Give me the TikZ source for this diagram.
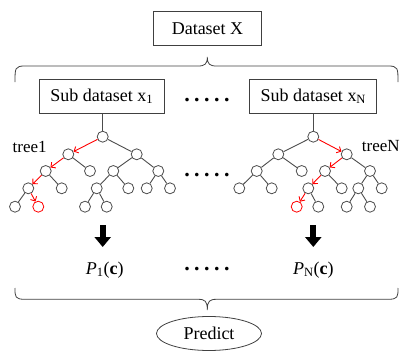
\documentclass[tikz,border=0pt]{standalone}
\usepackage{fontspec}
\setmainfont{Liberation Serif}
\usetikzlibrary{arrows.meta,shapes.geometric}
\newcommand{\dotrow}{.\hspace{4.5pt}.\hspace{4.5pt}.\hspace{4.5pt}.\hspace{4.5pt}.}
\tikzset{
  box/.style={draw=black!75, line width=0.8pt, minimum height=34pt, inner sep=0pt},
  tnode/.style={circle, draw=black!70, fill=white, line width=0.8pt, minimum size=11pt, inner sep=0pt},
  tred/.style={tnode, draw=red},
  tedge/.style={draw=black!70, line width=0.9pt},
  redarrow/.style={draw=red, line width=0.9pt, -{Straight Barb[length=3.5pt,width=7pt]}},
  bigarrow/.style={line width=6pt, -{Triangle[width=16pt,length=10pt]}},
  dots/.style={font=\fontsize{22}{24}\selectfont\bfseries, anchor=base},
}
\begin{document}
\begin{tikzpicture}[x=1pt, y=-1pt, every node/.style={font=\fontsize{18}{21}\selectfont}]
\useasboundingbox (0,0) rectangle (400,351);
% Whole dataset and the split into sub datasets
\node[box, minimum width=108pt] (data) at (207.5,28.3) {Dataset X};
\draw[black!75, line width=0.8pt] (15,82) .. controls (15,68) and (15,66) .. (25,66) -- (198,66)
  .. controls (205,66) and (207.3,64) .. (207.3,57) .. controls (207.3,64) and (209.6,66) .. (216.6,66)
  -- (388,66) .. controls (398,66) and (398,68) .. (398,82);
\node[box, minimum width=125pt] (s1) at (101.7,96.3) {Sub dataset x\textsubscript{1}};
\node[box, minimum width=127pt] (sN) at (313.3,96.3) {Sub dataset x\textsubscript{N}};
\node[dots] (d1) at (207,101.5) {\dotrow};
% Tree 1
\foreach \n/\x/\y in {a0/102.7/136.7, a1/68.3/154.3, a2/136.7/154.3, a3/45.7/171, a4/90/171,
  a5/113.3/171, a6/158.3/171, a7/28.3/188.3, a8/61.7/188.3, a9/96.7/188.3, a10/128.3/188.3,
  a11/146.7/188.3, a12/170/188.3, a13/15/206.7, a15/85/206.7, a16/106.7/206.7}
  \node[tnode] (\n) at (\x,\y) {};
\node[tred] (a14) at (38.3,206.7) {};
\foreach \u/\v in {a0/a2, a1/a4, a2/a5, a2/a6, a3/a8, a5/a9, a5/a10, a6/a11, a6/a12,
  a7/a13, a9/a15, a9/a16}
  \draw[tedge] (\u) -- (\v);
\foreach \u/\v in {a0/a1, a1/a3, a3/a7, a7/a14}
  \draw[redarrow] (\u) -- (\v);
\draw[tedge] (s1.south -| a0) -- (a0);
\node[font=\fontsize{17}{20}\selectfont] (t1) at (29.7,147.3) {tree1};
% Tree N
\foreach \n/\x/\y in {b0/313.3/136.7, b1/278.3/154.3, b2/346.7/154.3, b3/256.7/171, b4/301.7/171,
  b5/325/171, b6/370/171, b7/239.3/188.3, b8/271.7/188.3, b9/308.3/188.3, b10/341.7/188.3,
  b11/358.3/188.3, b12/381.7/188.3, b14/318.3/206.7, b15/346.7/206.7, b16/370/206.7}
  \node[tnode] (\n) at (\x,\y) {};
\node[tred] (b13) at (296.7,206.7) {};
\foreach \u/\v in {b0/b1, b1/b3, b1/b4, b2/b6, b3/b7, b3/b8, b5/b10, b6/b11, b6/b12,
  b9/b14, b11/b15, b11/b16}
  \draw[tedge] (\u) -- (\v);
\foreach \u/\v in {b0/b2, b2/b5, b5/b9, b9/b13}
  \draw[redarrow] (\u) -- (\v);
\draw[tedge] (sN.south -| b0) -- (b0);
\node[font=\fontsize{17}{20}\selectfont] (tN) at (380.8,146) {treeN};
\node[dots] (d2) at (207,176.5) {\dotrow};
% Predictions of each tree
\coordinate (f1) at (102.7,225);
\coordinate (g1) at (102.7,247);
\coordinate (fN) at (313.3,225);
\coordinate (gN) at (313.3,247);
\draw[bigarrow] (f1) -- (g1);
\draw[bigarrow] (fN) -- (gN);
\node (p1) at (104.7,270) {\textit{P}\textsubscript{1}(\textbf{c})};
\node (pN) at (313.3,270) {\textit{P}\textsubscript{N}(\textbf{c})};
\node[dots] (d3) at (207,270) {\dotrow};
\draw[black!75, line width=0.8pt] (15,288) .. controls (15,297) and (15,299.3) .. (25,299.3) -- (198,299.3)
  .. controls (205,299.3) and (207.3,301) .. (207.3,310) .. controls (207.3,301) and (209.6,299.3) .. (216.6,299.3)
  -- (388,299.3) .. controls (398,299.3) and (398,297) .. (398,288);
\node[ellipse, draw=black!75, line width=0.8pt, minimum width=105pt, minimum height=34pt, inner sep=0pt] (pred) at (209,333.5) {Predict};
\end{tikzpicture}
\end{document}
